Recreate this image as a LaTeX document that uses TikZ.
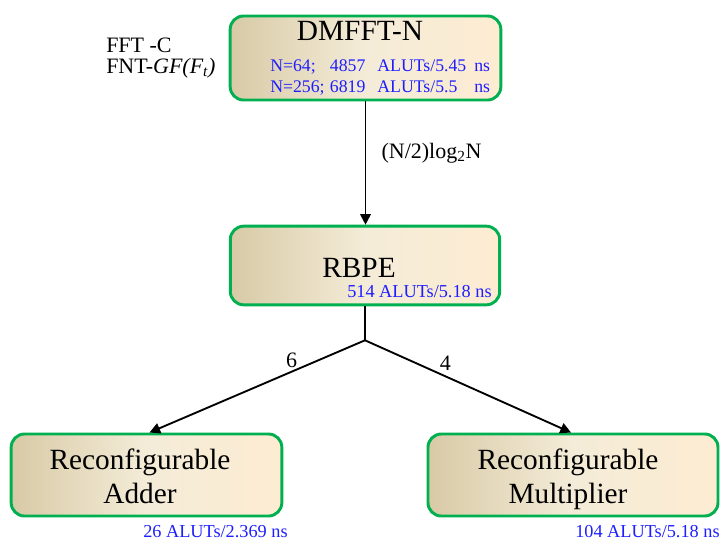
\documentclass[tikz,border=0pt]{standalone}
\usepackage{fontspec}
\setmainfont{Liberation Serif}
\usetikzlibrary{arrows.meta,calc}
\definecolor{boxgreen}{RGB}{0,176,80}
\definecolor{tanleft}{RGB}{216,202,166}
\definecolor{tanmid}{RGB}{244,236,216}
\definecolor{tanright}{RGB}{253,236,210}
\definecolor{infoblue}{RGB}{30,30,255}

\begin{document}
\begin{tikzpicture}[x=0.75pt,y=-0.75pt,
    block/.style={draw=boxgreen,line width=2.2pt,rounded corners=10pt,
      left color=tanleft,right color=tanright,middle color=tanmid,inner sep=0pt},
    big/.style={font=\fontsize{22}{25.5}\selectfont},
    info/.style={text=infoblue,inner sep=0pt,anchor=base west,font=\fontsize{13.7}{15.75}\selectfont},
    side/.style={inner sep=0pt,anchor=base west,font=\fontsize{16.5}{19}\selectfont},
    conn/.style={line width=1.4pt,-{Triangle[length=8pt,width=8pt]}}]
  \useasboundingbox (0,0) rectangle (722,543);

  % blocks
  \node[block,minimum width=203pt,minimum height=63pt] (dmfft) at (365.5,58) {};
  \node[block,minimum width=202pt,minimum height=59pt] (rbpe) at (365,265.5) {};
  \node[block,minimum width=203pt,minimum height=61.5pt] (adder) at (146.5,475) {};
  \node[block,minimum width=217.5pt,minimum height=61.5pt] (mult) at (573,475) {};

  % texts
  \node[big,anchor=base,inner sep=0pt] (dmfftname) at (360,40) {DMFFT-N};
  \node[info,font=\fontsize{13.3}{15.75}\selectfont] (dmfftinfo) at (270,71)
    {\begin{tabular}[t]{@{}l@{\hspace{4pt}}l@{\hspace{9pt}}l@{\hspace{6pt}}r@{}}
      N=64; & 4857 & ALUTs/5.45 & ns\\
      N=256; & 6819 & ALUTs/5.5 & ns
    \end{tabular}};
  \node[side] (fftc) at (106,52) {FFT -C};
  \node[side] (fnt) at (106,73) {FNT-\textit{GF(F\textsubscript{t})}};
  \node[big,anchor=base,inner sep=0pt] (rbpename) at (359,277) {RBPE};
  \node[info] (rbpeinfo) at (347,297) {514 ALUTs/5.18 ns};
  \node[big,align=center,text depth=0pt] (addername) at (140,476) {Reconfigurable\\Adder};
  \node[big,align=center,text depth=0pt] (multname) at (568,476) {Reconfigurable\\Multiplier};
  \node[info] (adderinfo) at (143,537) {26 ALUTs/2.369 ns};
  \node[info] (multinfo) at (575,537) {104 ALUTs/5.18 ns};

  % connectors
  \draw[conn] (dmfft.south) -- (dmfft.south |- rbpe.north)
    node[pos=0.42,right=8pt,font=\fontsize{16.5}{19}\selectfont] {(N/2)log\textsubscript{2}N};
  \coordinate (split) at ($(rbpe.south)+(0,34)$);
  \draw[line width=1.4pt] (rbpe.south) -- (split);
  \draw[conn] (split) -- ($(adder.north)+(3,0)$)
    node[pos=0.34,above=-1pt,font=\fontsize{16.5}{19}\selectfont] {6};
  \draw[conn] (split) -- ($(mult.north)+(-2,0)$)
    node[pos=0.39,above=0pt,font=\fontsize{16.5}{19}\selectfont] {4};
\end{tikzpicture}
\end{document}
